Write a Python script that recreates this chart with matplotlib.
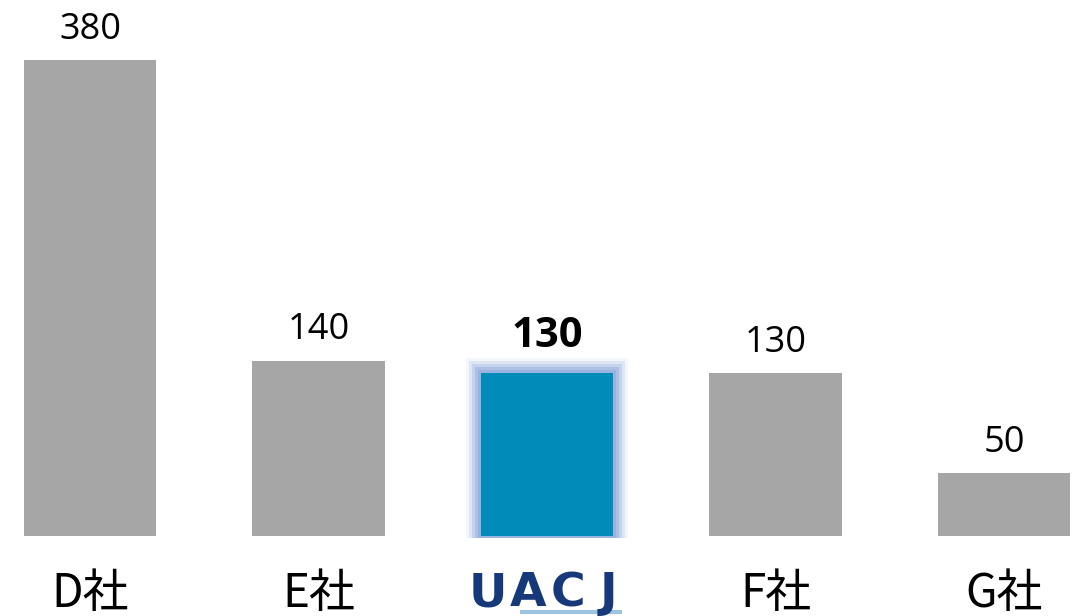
import matplotlib
matplotlib.use("Agg")
import matplotlib.pyplot as plt

plt.rcParams['font.family'] = ['Noto Sans CJK JP', 'DejaVu Sans']

# data
companies = ['D社', 'E社', 'UACJ', 'F社', 'G社']
values = [380, 140, 130, 130, 50]
highlight = 2

grey = '#A6A6A6'
blue = '#008BB9'

fig = plt.figure(figsize=(10.76, 6.16), dpi=100)
ax = fig.add_axes([0, 0.1299, 1, 0.8701])
xs = list(range(len(companies)))
colors = [blue if i == highlight else grey for i in xs]

# soft glow behind the highlighted bar (pad in px)
px_x = 1 / 228.5
px_y = 1 / 1.2526
for pad, a in [(15, 0.1), (12, 0.2), (9, 0.3), (6, 0.45), (3, 0.55)]:
    ax.bar(xs[highlight], values[highlight] + pad * px_y + 2 * px_y,
           width=0.578 + 2 * pad * px_x, bottom=-2 * px_y,
           color='#8EA9DB', alpha=a, zorder=1, clip_on=False)

ax.bar(xs, values, width=0.578, color=colors, zorder=2)

for i, v in enumerate(values):
    bold = i == highlight
    ax.annotate(str(v), (i, v), xytext=(0, 12 if bold else 9),
                textcoords='offset points', ha='center', va='bottom',
                fontsize=30 if bold else 26,
                fontweight='bold' if bold else 'normal',
                family=['Open Sans', 'DejaVu Sans'])

ax.set_xlim(-0.394, 4.315)
ax.set_ylim(0, 428)
ax.axis('off')

# category labels below the axis
for i, name in enumerate(companies):
    if i == highlight:
        offs = [-0.258, -0.083, 0.092, 0.267]
        for ch, o in zip(name, offs):
            ax.text(i + o, -46, ch, ha='center', va='center', fontsize=34,
                    fontweight='bold', color='#17397A',
                    family=['DejaVu Sans'], clip_on=False)
        ax.plot([i - 0.12, i + 0.33], [-61, -61], color='#9CC3E0', lw=3,
                clip_on=False, solid_capstyle='butt')
    else:
        ax.text(i, -46, name, ha='center', va='center', fontsize=33,
                clip_on=False)

plt.savefig('out.png', dpi=100)
